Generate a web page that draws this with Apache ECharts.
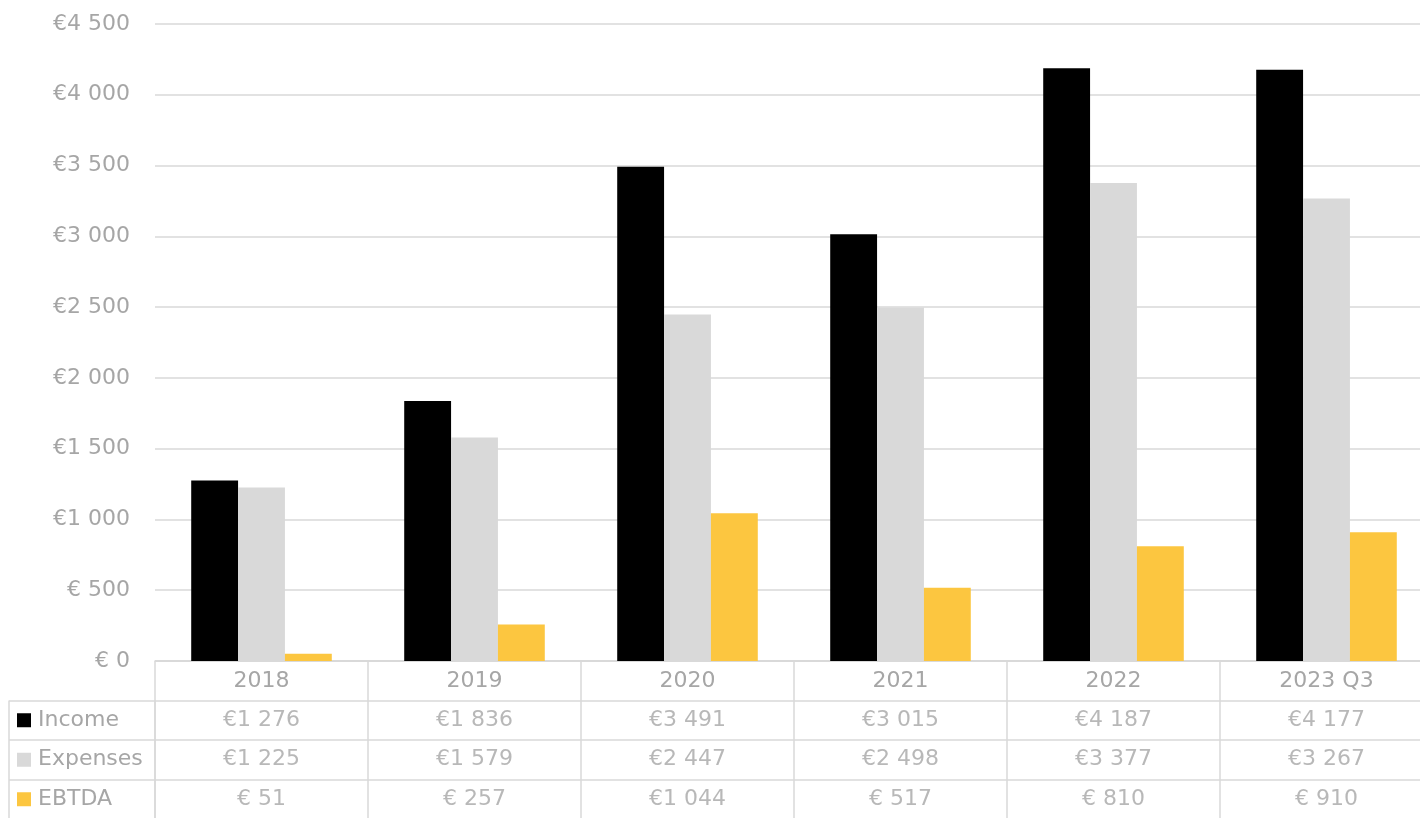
<!DOCTYPE html>
<html>
<head>
<meta charset="utf-8">
<script src="https://cdn.jsdelivr.net/npm/echarts@6/dist/echarts.min.js"></script>
<style>html,body{margin:0;padding:0;background:#fff}#c{width:1420px;height:818px}</style>
</head>
<body>
<div id="c"></div>
<script>
const categories = ['2018', '2019', '2020', '2021', '2022', '2023 Q3'];
const seriesNames = ['Income', 'Expenses', 'EBTDA'];
const income = [1276, 1836, 3491, 3015, 4187, 4177];
const expenses = [1225, 1579, 2447, 2498, 3377, 3267];
const ebtda = [51, 257, 1044, 517, 810, 910];
const colors = ['#000000', '#D9D9D9', '#FCC640'];
const grey = '#A6A6A6';
const font = 'DejaVu Sans';
const fs = 22;

function euro(v) {
  if (v < 1000) return '€ ' + v;
  const th = Math.floor(v / 1000);
  const rest = String(v % 1000).padStart(3, '0');
  return '€' + th + ' ' + rest;
}

const allSeries = [income, expenses, ebtda];
const tableData = [];
allSeries.forEach((arr, r) => arr.forEach((v, c) => tableData.push([c, r + 1, v])));

const rich = { t: { color: grey, fontSize: fs, fontFamily: font, padding: [0, 0, 0, 7] } };
colors.forEach((col, i) => { rich['m' + i] = { width: 14, height: 14, backgroundColor: col }; });

const lineStyle = { color: '#D9D9D9', width: 1.5 };

const chart = echarts.init(document.getElementById('c'));
chart.setOption({
  animation: false,
  textStyle: { fontFamily: font },
  grid: [
    { left: 155, width: 1278, top: 24, height: 637, outerBoundsMode: 'none', containLabel: false },
    { left: 155, width: 1278, top: 661, height: 158, outerBoundsMode: 'none', containLabel: false },
    { left: 9, width: 146, top: 700.5, height: 118.5, outerBoundsMode: 'none', containLabel: false }
  ],
  xAxis: [
    {
      type: 'category', gridIndex: 0, data: categories,
      axisLine: { show: true, lineStyle: lineStyle },
      axisTick: { show: false },
      axisLabel: { color: grey, fontSize: fs, fontFamily: font, margin: 9 }
    },
    {
      type: 'category', gridIndex: 1, data: categories,
      axisLine: { show: false }, axisTick: { show: false }, axisLabel: { show: false },
      splitLine: { show: true, lineStyle: lineStyle }
    },
    {
      type: 'category', gridIndex: 2, data: ['label'],
      axisLine: { show: false }, axisTick: { show: false }, axisLabel: { show: false },
      splitLine: { show: true, lineStyle: lineStyle }
    }
  ],
  yAxis: [
    {
      type: 'value', gridIndex: 0, min: 0, max: 4500, interval: 500,
      axisLine: { show: false }, axisTick: { show: false },
      splitLine: { show: true, lineStyle: lineStyle },
      axisLabel: { color: grey, fontSize: fs, fontFamily: font, margin: 25, formatter: euro }
    },
    {
      type: 'category', gridIndex: 1, inverse: true, data: ['year'].concat(seriesNames),
      axisLine: { show: false }, axisTick: { show: false }, axisLabel: { show: false },
      splitLine: { show: true, lineStyle: lineStyle }
    },
    {
      type: 'category', gridIndex: 2, inverse: true, data: seriesNames,
      axisLine: { show: false }, axisTick: { show: false },
      splitLine: { show: true, lineStyle: lineStyle },
      axisLabel: {
        inside: true, margin: 8, align: 'left',
        formatter: (v, i) => '{m' + i + '|}{t|' + v + '}',
        rich: rich
      }
    }
  ],
  series: [
    { name: seriesNames[0], type: 'bar', data: income, itemStyle: { color: colors[0] }, barGap: '0%', barCategoryGap: '34%' },
    { name: seriesNames[1], type: 'bar', data: expenses, itemStyle: { color: colors[1] }, barGap: '0%', barCategoryGap: '34%' },
    { name: seriesNames[2], type: 'bar', data: ebtda, itemStyle: { color: colors[2] }, barGap: '0%', barCategoryGap: '34%' },
    {
      name: 'table', type: 'scatter', xAxisIndex: 1, yAxisIndex: 1, silent: true,
      symbolSize: 1, itemStyle: { color: 'rgba(0,0,0,0)' },
      data: tableData,
      label: {
        show: true, position: 'inside', color: grey, fontSize: fs, fontFamily: font,
        formatter: p => euro(p.value[2])
      }
    }
  ]
});
</script>
</body>
</html>
